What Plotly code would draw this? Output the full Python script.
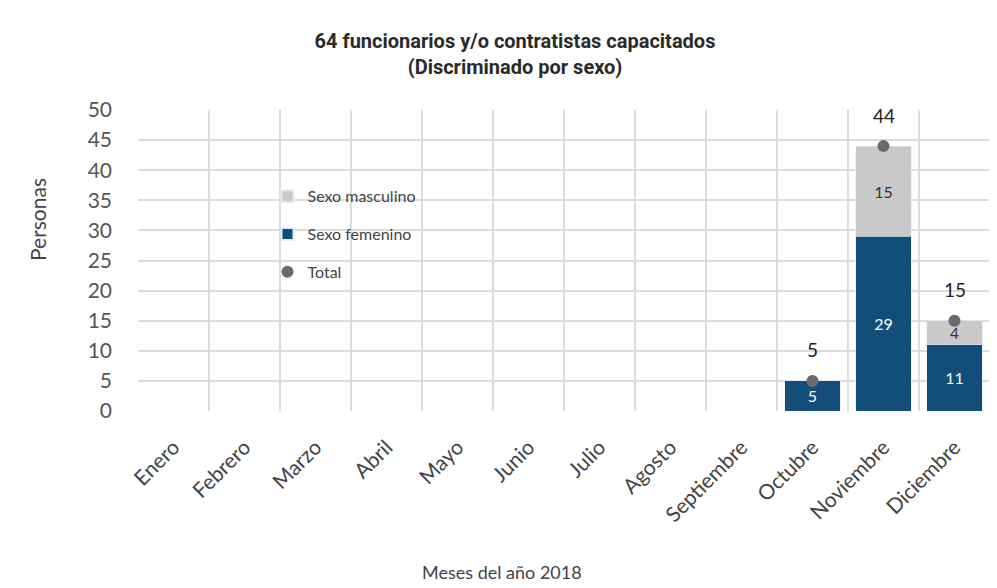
import plotly.graph_objects as go

meses = ["Enero", "Febrero", "Marzo", "Abril", "Mayo", "Junio", "Julio",
         "Agosto", "Septiembre", "Octubre", "Noviembre", "Diciembre"]
femenino = [0, 0, 0, 0, 0, 0, 0, 0, 0, 5, 29, 11]
masculino = [0, 0, 0, 0, 0, 0, 0, 0, 0, 0, 15, 4]
total = [None, None, None, None, None, None, None, None, None, 5, 44, 15]

BLUE = "#134e78"
GREY = "#c9c9c9"
DOT = "#6b6b6b"
FONT = "Lato"
W, H = 989, 580
L, R, T, B = 130, 7, 102, 177

fig = go.Figure()
fig.add_trace(go.Bar(
    x=meses, y=femenino, name="Sexo femenino", marker_color=BLUE,
    text=[str(v) if v else "" for v in femenino], textposition="inside",
    insidetextanchor="middle", textangle=0, legendgroup="f",
    textfont=dict(color="white", size=16, family=FONT), legendrank=2,
))
fig.add_trace(go.Bar(
    x=meses, y=masculino, name="Sexo masculino", marker_color=GREY,
    text=[str(v) if v else "" for v in masculino], textposition="inside",
    insidetextanchor="middle", textangle=0, legendgroup="m",
    textfont=dict(color="#333333", size=16, family=FONT), legendrank=1,
))
fig.add_trace(go.Scatter(
    x=meses, y=total, name="Total", mode="markers", legendgroup="t",
    marker=dict(color=DOT, size=12), legendrank=3,
))
for m, t in zip(meses, total):
    if t is not None:
        fig.add_annotation(x=m, y=t, text=str(t), showarrow=False, yshift=31,
                           font=dict(size=19, color="#222222", family=FONT))

# axis titles as annotations (positioned like the reference)
fig.add_annotation(text="Personas", xref="paper", yref="paper",
                   x=(37 - 8 - L) / (W - L - R), y=(H - B - (220 - 8)) / (H - T - B),
                   textangle=-90, showarrow=False, xanchor="center", yanchor="middle",
                   font=dict(size=21, color="#444444", family=FONT))
fig.add_annotation(text="Meses del año 2018", xref="paper", yref="paper",
                   x=(502 - 8 - L) / (W - L - R), y=-(572 - 8 - (H - B)) / (H - T - B),
                   showarrow=False, xanchor="center", yanchor="middle",
                   font=dict(size=18, color="#444444", family=FONT))

fig.update_layout(
    width=W, height=H,
    paper_bgcolor="white", plot_bgcolor="white",
    barmode="stack", bargap=0.22,
    margin=dict(l=L, r=R, t=T, b=B, autoexpand=False),
    title=dict(text="<b>64 funcionarios y/o contratistas capacitados<br>(Discriminado por sexo)</b>",
               x=(515 - 8) / W, xref="container", xanchor="center", y=0.931, yanchor="top",
               font=dict(family="Roboto", size=20, color="#2b2b2b")),
    legend=dict(x=0.152, y=0.77, xanchor="left", yanchor="top", traceorder="grouped",
                bgcolor="rgba(0,0,0,0)", font=dict(family=FONT, size=16, color="#444444"),
                itemsizing="constant", tracegroupgap=14),
    font=dict(family=FONT),
    showlegend=True,
)
fig.update_xaxes(
    type="category", range=[-0.5, 11.5], tickson="boundaries", showgrid=True,
    gridcolor="#dcdcdc", gridwidth=1.5,
    tickangle=-45, tickfont=dict(size=21, color="#444444", family=FONT), ticks="",
    ticklabelstandoff=19, showline=False, zeroline=False, automargin=False,
)
fig.update_yaxes(
    range=[0, 50], dtick=5, showgrid=True, gridcolor="#dcdcdc", gridwidth=1.5,
    tickfont=dict(size=21, color="#555555", family=FONT), ticks="", zeroline=False,
    ticklabelstandoff=25, automargin=False,
)
fig.write_html("out.html")
